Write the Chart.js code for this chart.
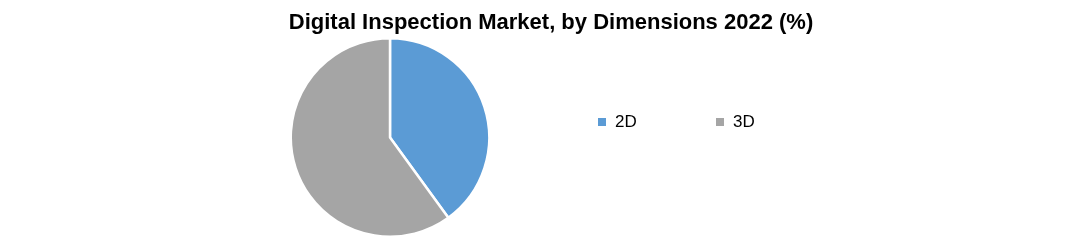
<!DOCTYPE html>
<html>
<head>
<meta charset="utf-8">
<script src="https://cdn.jsdelivr.net/npm/chart.js@4/dist/chart.umd.min.js"></script>
<style>
  html, body { margin: 0; padding: 0; background: #fff; }
  #wrap { width: 1074px; height: 240px; }
</style>
</head>
<body>
<div id="wrap"><canvas id="chart" width="1074" height="240"></canvas></div>
<script>
const title = "Digital Inspection Market, by Dimensions 2022 (%)";
const labels = ["2D", "3D"];
const shares = [40, 60];
const colors = ["#5b9bd5", "#a5a5a5"];

// title and legend sit at their own spots, not around the pie
const overlay = {
  id: "overlay",
  afterDraw(chart) {
    const ctx = chart.ctx;
    ctx.save();
    ctx.fillStyle = "#000";
    ctx.font = "bold 22px 'Liberation Sans', Arial, sans-serif";
    ctx.textAlign = "center";
    ctx.textBaseline = "alphabetic";
    ctx.fillText(title, 551, 29);

    ctx.font = "17px 'Liberation Sans', Arial, sans-serif";
    ctx.textAlign = "left";
    ctx.textBaseline = "middle";
    const xs = [598, 716];
    chart.data.labels.forEach((lab, i) => {
      ctx.fillStyle = chart.data.datasets[0].backgroundColor[i];
      ctx.fillRect(xs[i], 118, 8, 8);
      ctx.fillStyle = "#000";
      ctx.fillText(lab, xs[i] + 17, 122.5);
    });
    ctx.restore();
  }
};

new Chart(document.getElementById("chart"), {
  type: "pie",
  data: {
    labels: labels,
    datasets: [{
      data: shares,
      backgroundColor: colors,
      borderColor: "#fff",
      borderWidth: 2.5
    }]
  },
  options: {
    responsive: false,
    animation: false,
    layout: { padding: { top: 37, bottom: 2, left: 289, right: 583 } },
    plugins: {
      legend: { display: false },
      tooltip: { enabled: false }
    }
  },
  plugins: [overlay]
});
</script>
</body>
</html>
